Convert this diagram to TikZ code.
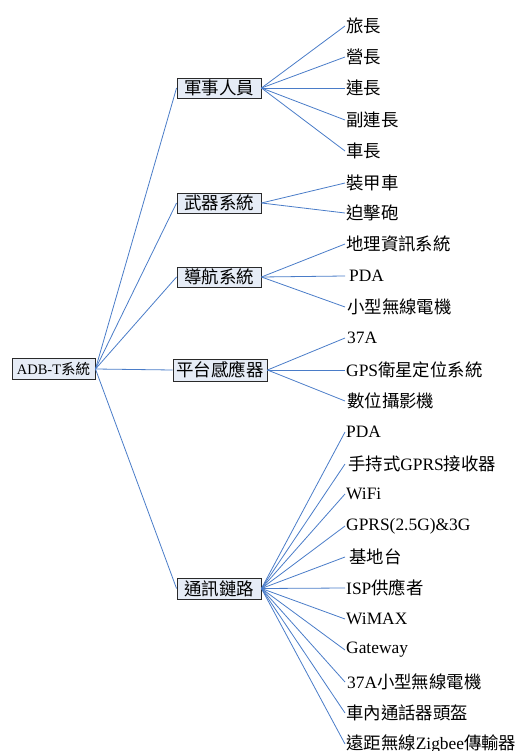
\documentclass[tikz,border=0pt]{standalone}
\usepackage{fontspec}
\setmainfont{Liberation Serif}
\newfontfamily\cjk{Noto Sans CJK TC}
\newcommand\C[1]{{\cjk #1}}
\definecolor{linkblue}{HTML}{4A7CC8}
\definecolor{boxfill}{HTML}{E6ECF6}
\definecolor{boxline}{HTML}{2A2A2A}
\tikzset{
  box/.style={draw=boxline, fill=boxfill, line width=0.9pt, inner sep=1pt, minimum height=20pt, font=\fontsize{17.5}{20}\selectfont},
  leaf/.style={anchor=west, inner sep=1pt, font=\fontsize{17.4}{20}\selectfont},
  conn/.style={draw=linkblue, line width=0.8pt}
}
\begin{document}
\begin{tikzpicture}[x=1pt,y=-1pt]
\useasboundingbox (0,0) rectangle (516,751);
% root
\node[box, minimum width=83pt, minimum height=21pt, font=\fontsize{14.5}{17}\selectfont] (root) at (53.5,369) {ADB-T\C{系統}};
% level 1
\node[box, minimum width=84pt] (a) at (219,88) {\C{軍事人員}};
\node[box, minimum width=84pt] (b) at (219,203) {\C{武器系統}};
\node[box, minimum width=84pt] (c) at (219,277) {\C{導航系統}};
\node[box, minimum width=94pt, minimum height=22pt] (d) at (220,370) {\C{平台感應器}};
\node[box, minimum width=84pt, minimum height=21pt] (e) at (219,588.5) {\C{通訊鏈路}};
% leaves a
\node[leaf] (a1) at (345,26) {\C{旅長}};
\node[leaf] (a2) at (345,57) {\C{營長}};
\node[leaf] (a3) at (345,88) {\C{連長}};
\node[leaf] (a4) at (345,120) {\C{副連長}};
\node[leaf] (a5) at (345,151) {\C{車長}};
% leaves b
\node[leaf] (b1) at (345,183) {\C{裝甲車}};
\node[leaf] (b2) at (345,213) {\C{迫擊砲}};
% leaves c
\node[leaf] (c1) at (345,244) {\C{地理資訊系統}};
\node[leaf] (c2) at (345,276) {\hspace{3pt}PDA};
\node[leaf] (c3) at (345,307) {\hspace{1pt}\C{小型無線電機}};
% leaves d
\node[leaf] (d1) at (345,338) {\hspace{1pt}37A};
\node[leaf] (d2) at (345,370) {GPS\C{衛星定位系統}};
\node[leaf] (d3) at (345,401) {\hspace{1pt}\C{數位攝影機}};
% leaves e
\node[leaf] (e1) at (345,432) {PDA};
\node[leaf] (e2) at (345,464) {\hspace{2pt}\C{手持式}GPRS\C{接收器}};
\node[leaf] (e3) at (345,494) {WiFi};
\node[leaf] (e4) at (345,526) {GPRS(2.5G)\&3G};
\node[leaf] (e5) at (345,557) {\hspace{3pt}\C{基地台}};
\node[leaf] (e6) at (345,588) {ISP\C{供應者}};
\node[leaf] (e7) at (345,619) {WiMAX};
\node[leaf] (e8) at (345,650) {Gateway};
\node[leaf] (e9) at (345,682) {\hspace{1pt}37A\C{小型無線電機}};
\node[leaf] (e10) at (345,713) {\C{車內通話器頭盔}};
\node[leaf] (e11) at (345,744) {\C{遠距無線}Zigbee\C{傳輸器}};
% connectors
\foreach \t in {a,b,c,d,e} \draw[conn] (root.east) -- (\t.west);
\foreach \t in {a1,a2,a3,a4,a5} \draw[conn] (a.east) -- (\t.west);
\foreach \t in {b1,b2} \draw[conn] (b.east) -- (\t.west);
\foreach \t in {c1,c2,c3} \draw[conn] (c.east) -- (\t.west);
\foreach \t in {d1,d2,d3} \draw[conn] (d.east) -- (\t.west);
\foreach \t in {e1,e2,e3,e4,e5,e6,e7,e8,e9,e10,e11} \draw[conn] (e.east) -- (\t.west);
\end{tikzpicture}
\end{document}
